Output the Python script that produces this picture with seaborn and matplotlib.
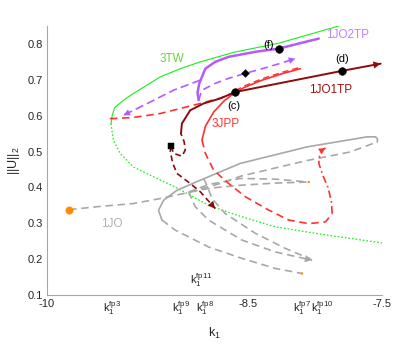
import numpy as np
import matplotlib
matplotlib.use("Agg")
import matplotlib.pyplot as plt
import seaborn as sns
from matplotlib.transforms import ScaledTranslation, blended_transform_factory

# ---------------- data ----------------
# 3TW (green)
tw_up_x = [-9.521, -9.513, -9.495, -9.429, -9.354, -9.254, -9.154, -9.004, -8.855, -8.600, -8.269, -7.820]
tw_up_y = [0.578, 0.600, 0.622, 0.643, 0.662, 0.685, 0.708, 0.731, 0.750, 0.777, 0.802, 0.850]
tw_lo_x = [-9.521, -9.516, -9.504, -9.454, -9.354, -9.229, -9.042, -8.793, -8.543, -8.293, -7.994, -7.495]
tw_lo_y = [0.578, 0.562, 0.532, 0.495, 0.457, 0.434, 0.401, 0.350, 0.318, 0.290, 0.272, 0.245]

# 1JO2TP (purple)
p_sol_x = [-8.867, -8.875, -8.862, -8.817, -8.743, -8.643, -8.443, -8.269, -7.969]
p_sol_y = [0.643, 0.665, 0.690, 0.731, 0.750, 0.764, 0.778, 0.787, 0.815]
p_right_x = [-8.867, -8.842, -8.743, -8.643, -8.518, -8.344, -8.144]
p_right_y = [0.643, 0.671, 0.690, 0.704, 0.718, 0.736, 0.759]
p_left_x = [-8.855, -9.055, -9.229, -9.429]
p_left_y = [0.699, 0.671, 0.638, 0.601]

# 1JO1TP (dark red)
dr_dashA_x = [-9.072, -9.055, -8.992, -8.967, -8.975, -8.999]
dr_dashA_y = [0.515, 0.495, 0.487, 0.504, 0.527, 0.550]
dr_sol_x = [-8.999, -8.992, -8.930, -8.830, -8.705, -8.593, -7.794, -7.507]
dr_sol_y = [0.550, 0.578, 0.615, 0.634, 0.648, 0.666, 0.725, 0.745]
dr_dashB_x = [-9.072, -9.079, -9.060, -9.029, -8.930, -8.855, -8.743]
dr_dashB_y = [0.515, 0.500, 0.467, 0.439, 0.411, 0.388, 0.341]

# 3JPP (red)
r_fold_x = [-9.530, -9.504, -9.354, -9.154, -9.004, -8.855, -8.705, -8.593]
r_fold_y = [0.592, 0.592, 0.595, 0.606, 0.620, 0.634, 0.649, 0.666]
r_up_x = [-8.593, -8.518, -8.393, -8.243, -8.106]
r_up_y = [0.666, 0.680, 0.699, 0.717, 0.731]
r_lo_sol_x = [-8.593, -8.680, -8.755, -8.817, -8.842]
r_lo_sol_y = [0.666, 0.640, 0.610, 0.570, 0.532]
r_lo_dash_x = [-8.842, -8.817, -8.755, -8.643, -8.518, -8.344, -8.194, -8.044, -7.919, -7.869]
r_lo_dash_y = [0.532, 0.495, 0.448, 0.411, 0.374, 0.337, 0.309, 0.299, 0.304, 0.327]
r_dd_x = [-7.869, -7.875, -7.900, -7.935, -7.969, -7.965, -7.944, -7.919]
r_dd_y = [0.327, 0.360, 0.400, 0.430, 0.467, 0.485, 0.504, 0.510]

# 1JO (gray)
g_dash1_x = [-9.835, -9.603, -9.354, -9.154, -8.954, -8.705, -8.555, -8.331, -8.056, -7.732, -7.532]
g_dash1_y = [0.338, 0.347, 0.355, 0.369, 0.385, 0.411, 0.431, 0.451, 0.475, 0.499, 0.527]
g_sol_x = [-7.532, -7.530, -7.545, -7.607, -8.056, -8.555, -8.855, -9.029, -9.129, -9.167, -9.141]
g_sol_y = [0.527, 0.535, 0.541, 0.541, 0.513, 0.467, 0.420, 0.392, 0.364, 0.336, 0.309]
g_dash2_x = [-9.141, -9.042, -8.793, -8.543, -8.293, -8.094]
g_dash2_y = [0.309, 0.281, 0.234, 0.202, 0.174, 0.160]
g_dash3_x = [-8.942, -8.793, -8.555, -8.293, -8.044]
g_dash3_y = [0.387, 0.408, 0.425, 0.423, 0.415]
g_dash4_x = [-8.930, -8.780, -8.555, -8.293, -8.044]
g_dash4_y = [0.387, 0.398, 0.406, 0.412, 0.415]
g_dash5_x = [-8.942, -8.892, -8.793, -8.543, -8.293, -8.019]
g_dash5_y = [0.388, 0.346, 0.309, 0.253, 0.220, 0.197]
g_dash6_x = [-8.830, -8.805, -8.767, -8.668, -8.443, -8.219, -8.030]
g_dash6_y = [0.425, 0.406, 0.369, 0.327, 0.272, 0.230, 0.200]

# markers
start_x, start_y = [-9.835], [0.338]
ends_x, ends_y = [-8.094, -8.044], [0.160, 0.415]
square_x, square_y = [-9.072], [0.515]
diamond_x, diamond_y = [-8.518], [0.720]
pts_x = [-8.593, -7.794, -8.269]
pts_y = [0.666, 0.725, 0.787]
pt_labels = ["(c)", "(d)", "(f)"]
pt_label_x = [-8.606, -7.794, -8.345]
pt_label_y = [0.628, 0.757, 0.797]

curve_labels = ["3TW", "1JO2TP", "1JO1TP", "3JPP", "1JO"]
curve_label_x = [-9.067, -7.757, -7.882, -8.668, -9.516]
curve_label_y = [0.759, 0.824, 0.671, 0.578, 0.299]

xtick_vals = [-10, -9.515, -9.0, -8.843, -8.5, -8.094, -8.0, -7.5]
xtick_labels = ["-10", r"$\mathrm{k}_1^{\mathrm{fp3}}$", r"$\mathrm{k}_1^{\mathrm{fp9}}$",
                r"$\mathrm{k}_1^{\mathrm{fp8}}$", "-8.5", r"$\mathrm{k}_1^{\mathrm{fp7}}$",
                r"$\mathrm{k}_1^{\mathrm{fp10}}$", "-7.5"]
extra_ticks = [-9.503, -8.866]
fp11_label = r"$\mathrm{k}_1^{\mathrm{fp11}}$"
ytick_vals = [0.1, 0.2, 0.3, 0.4, 0.5, 0.6, 0.7, 0.8]

# ---------------- style ----------------
sns.set_style("white")
plt.rcParams["font.family"] = ["Liberation Sans", "DejaVu Sans"]
plt.rcParams["mathtext.fontset"] = "custom"
plt.rcParams["mathtext.rm"] = "Liberation Sans"
plt.rcParams["mathtext.it"] = "Liberation Sans"
plt.rcParams["mathtext.bf"] = "Liberation Sans:bold"

GREEN = "#14f014"
PURPLE = "#b45aff"
DARKRED = "#8f0a0a"
RED = "#ff3030"
GRAY = "#a8a8a8"
TXT = "#262626"

fig = plt.figure(figsize=(3.95, 3.49), dpi=100)
ax = fig.add_axes([0.119, 0.1547, 0.847, 0.7708])


def line(x, y, color, lw, style="-", dashes=None, z=2):
    sns.lineplot(x=x, y=y, sort=False, estimator=None, color=color, lw=lw,
                 ax=ax, legend=False, zorder=z)
    ln = ax.lines[-1]
    if style == "--":
        ln.set_dashes(dashes if dashes else (4.5, 2.8))
    elif style == ":":
        ln.set_dashes((1.3, 1.6))
    elif style == "-.":
        ln.set_dashes((4.5, 2.0, 1.0, 2.0))
    return ln


def arrow(x, y, color, size=11):
    ax.annotate("", xy=(x[-1], y[-1]), xytext=(x[-2], y[-2]),
                arrowprops=dict(arrowstyle="-|>", color=color, lw=0,
                                mutation_scale=size, shrinkA=0, shrinkB=0),
                zorder=5)


# green
line(tw_up_x, tw_up_y, GREEN, 0.8)
line(tw_lo_x, tw_lo_y, GREEN, 0.9, ":")

# gray
line(g_dash1_x, g_dash1_y, GRAY, 1.2, "--")
line(g_sol_x, g_sol_y, GRAY, 1.2)
line(g_dash2_x, g_dash2_y, GRAY, 1.2, "--")
line(g_dash3_x, g_dash3_y, GRAY, 1.2, "--")
line(g_dash4_x, g_dash4_y, GRAY, 1.2, "--")
line(g_dash5_x, g_dash5_y, GRAY, 1.2, "--")
line(g_dash6_x, g_dash6_y, GRAY, 1.2, "--")
arrow(g_dash5_x, g_dash5_y, GRAY, 13)

# red
line(r_fold_x, r_fold_y, RED, 1.2, "--")
line(r_up_x, r_up_y, RED, 1.2)
line(r_up_x, [v + 0.004 for v in r_up_y], RED, 1.0, "--")
line(r_lo_sol_x, r_lo_sol_y, RED, 1.2)
line(r_lo_dash_x, r_lo_dash_y, RED, 1.2, "--")
line(r_dd_x, r_dd_y, RED, 1.2, "-.")
arrow(r_dd_x, r_dd_y, RED, 12)

# purple
line(p_sol_x, p_sol_y, PURPLE, 1.8)
line(p_right_x, p_right_y, PURPLE, 1.2, "--")
line(p_left_x, p_left_y, PURPLE, 1.2, "--", dashes=(5, 2.5))
arrow(p_right_x, p_right_y, PURPLE, 12)
arrow(p_left_x, p_left_y, PURPLE, 12)

# dark red
line(dr_dashA_x, dr_dashA_y, DARKRED, 1.2, "--", dashes=(3.5, 2.2))
line(dr_sol_x, dr_sol_y, DARKRED, 1.4)
line(dr_dashB_x, dr_dashB_y, DARKRED, 1.2, "--", dashes=(3.5, 2.2))
arrow(dr_dashB_x, dr_dashB_y, DARKRED, 13)
arrow(dr_sol_x, dr_sol_y, DARKRED, 13)

# markers
sns.scatterplot(x=start_x, y=start_y, color="#ff8c00", s=28, edgecolor="#ff8c00",
                ax=ax, zorder=6, legend=False)
sns.scatterplot(x=ends_x, y=ends_y, color="#ff8c00", s=3, edgecolor="none",
                ax=ax, zorder=6, legend=False)
sns.scatterplot(x=square_x, y=square_y, color="black", marker="s", s=18,
                edgecolor="black", ax=ax, zorder=6, legend=False)
sns.scatterplot(x=diamond_x, y=diamond_y, color="black", marker="D", s=16,
                edgecolor="black", ax=ax, zorder=6, legend=False)
sns.scatterplot(x=pts_x, y=pts_y, color="black", s=30, edgecolor="black",
                ax=ax, zorder=6, legend=False)

for t, x, y in zip(pt_labels, pt_label_x, pt_label_y):
    ax.text(x, y, t, ha="center", va="center", fontsize=8, color="black", zorder=7)

label_colors = ["#63d63a", "#c27fff", "#9c0f0f", "#ff3333", "#b0b0b0"]
for t, x, y, c in zip(curve_labels, curve_label_x, curve_label_y, label_colors):
    ax.text(x, y, t, ha="center", va="center", fontsize=8.5, color=c, zorder=7)

# axes
ax.set_xlim(-10, -7.5)
ax.set_ylim(0.1, 0.85)
for s in ["top", "right"]:
    ax.spines[s].set_visible(False)
for s in ["left", "bottom"]:
    ax.spines[s].set_color("#a6a6a6")
    ax.spines[s].set_linewidth(0.8)
ax.set_xticks(xtick_vals + extra_ticks)
ax.set_xticklabels(xtick_labels + ["", ""])
ax.set_yticks(ytick_vals)
ax.set_yticklabels([f"{v:.1f}" for v in ytick_vals])
ax.tick_params(direction="in", length=2.5, width=0.6, color="#a6a6a6",
               labelsize=8, labelcolor=TXT, pad=3)
labels = ax.get_xticklabels()
labels[6].set_transform(labels[6].get_transform() + ScaledTranslation(8 / 100, 0, fig.dpi_scale_trans))
labels[3].set_transform(labels[3].get_transform() + ScaledTranslation(3 / 100, 0, fig.dpi_scale_trans))
trans = blended_transform_factory(ax.transData, ax.transAxes)
ax.text(extra_ticks[1] + 0.02, 0.055, fp11_label, transform=trans, ha="center",
        va="center", fontsize=8, color=TXT)

ax.set_xlabel(r"$\mathrm{k}_1$", fontsize=9, color=TXT, labelpad=6)
ax.set_ylabel(r"$||\mathrm{U}||_2$", fontsize=9, color=TXT, labelpad=4)

fig.savefig("out.png", dpi=100)
